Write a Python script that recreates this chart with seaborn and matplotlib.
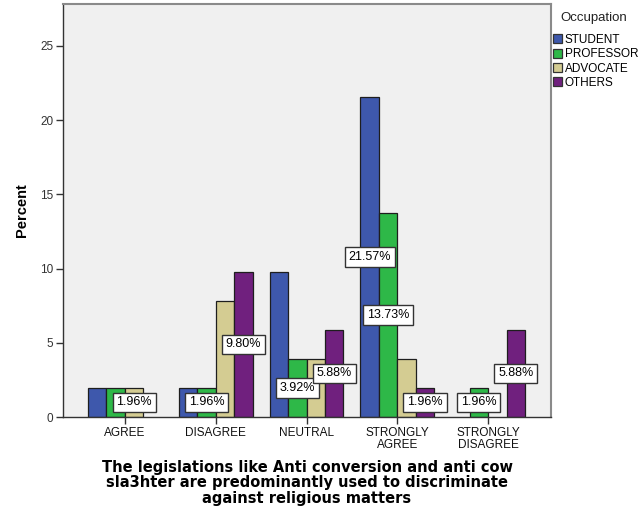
import matplotlib
matplotlib.use("Agg")
import matplotlib.pyplot as plt
from matplotlib.patches import Patch
import numpy as np
import pandas as pd
import seaborn as sns

# ---- data ----
categories = ["AGREE", "DISAGREE", "NEUTRAL", "STRONGLY\nAGREE", "STRONGLY\nDISAGREE"]
occupations = ["STUDENT", "PROFESSOR", "ADVOCATE", "OTHERS"]
student = [1.96, 1.96, 9.80, 21.57, 0.0]
professor = [1.96, 1.96, 3.92, 13.73, 1.96]
advocate = [1.96, 7.84, 3.92, 3.92, 0.0]
others = [0.0, 9.80, 5.88, 1.96, 5.88]
colors = ["#3E58AC", "#2EB848", "#D4CC92", "#70207E"]
yticks = [0, 5, 10, 15, 20, 25]
# value labels visible in the reference (category index, occupation)
shown_labels = [(0, "ADVOCATE"), (1, "PROFESSOR"), (1, "OTHERS"),
                (2, "PROFESSOR"), (2, "OTHERS"),
                (3, "STUDENT"), (3, "PROFESSOR"), (3, "OTHERS"),
                (4, "PROFESSOR"), (4, "OTHERS")]
xlabel = ("The legislations like Anti conversion and anti cow\n"
          "sla3hter are predominantly used to discriminate\n"
          "against religious matters")
ylabel = "Percent"
legend_title = "Occupation"

series = {"STUDENT": student, "PROFESSOR": professor, "ADVOCATE": advocate, "OTHERS": others}
rows = []
for occ in occupations:
    for cat, v in zip(categories, series[occ]):
        if v > 0:
            rows.append({"cat": cat, "occ": occ, "pct": v})
df = pd.DataFrame(rows)

sns.set_style("white")
plt.rcParams["font.family"] = ["Liberation Sans", "DejaVu Sans"]
plt.rcParams["text.color"] = "black"

W, H = 641, 509
fig = plt.figure(figsize=(W / 100, H / 100), dpi=100)
ax = fig.add_axes([63 / W, 1 - 417 / H, 488 / W, 413 / H])
ax.set_facecolor("#F0F0F0")

sns.barplot(data=df, x="cat", y="pct", hue="occ", order=categories,
            hue_order=occupations, palette=colors, saturation=1, width=0.815,
            edgecolor="#1E1E1E", linewidth=0.9, errorbar=None, legend=False,
            ax=ax, zorder=2)

ax.set_xlim(-0.683, 4.694)
ax.set_ylim(0, 27.83)
ax.set_yticks(yticks)
ax.set_yticklabels([str(t) for t in yticks], fontsize=8.5, color="#333333")
ax.set_xticks(range(len(categories)))
ax.set_xticklabels(categories, fontsize=8.5, color="#111111", linespacing=1.0)
ax.tick_params(axis="both", direction="out", length=5, width=1, color="#333333",
               left=True, bottom=True, pad=2)
ax.set_xlabel("")
ax.set_ylabel(ylabel, fontsize=10.5, fontweight="bold", labelpad=8, color="black")

for side in ["left", "bottom"]:
    ax.spines[side].set_color("#333333")
    ax.spines[side].set_linewidth(1.0)
for side in ["top", "right"]:
    ax.spines[side].set_color("#8A8A8A")
    ax.spines[side].set_linewidth(1.5)

# value labels placed on the drawn bars
for occ, cont in zip(occupations, ax.containers):
    for p in cont.patches:
        cx = p.get_x() + p.get_width() / 2
        ci = int(round(cx))
        h = p.get_height()
        if (ci, occ) in shown_labels and h > 0:
            ax.text(cx, h / 2, f"{h:.2f}%", ha="center", va="center", fontsize=9,
                    zorder=5, color="black",
                    bbox=dict(boxstyle="square,pad=0.3", fc="white", ec="#333333", lw=1.0))

fig.text(307 / W, 1 - 483 / H, xlabel, ha="center", va="center", fontsize=10.5,
         fontweight="bold", family="DejaVu Sans", linespacing=1.05, color="black")

fig.text(560 / W, 1 - 18 / H, legend_title, ha="left", va="center", fontsize=9.5,
         color="#222222")
handles = [Patch(facecolor=c, edgecolor="#333333", linewidth=0.9, label=o)
           for c, o in zip(colors, occupations)]
leg = fig.legend(handles=handles, loc="upper left",
                 bbox_to_anchor=(553 / W, 1 - 34 / H), frameon=False, fontsize=8.5,
                 handlelength=0.8, handleheight=0.8,
                 handletextpad=0.2, labelspacing=0.2, borderaxespad=0,
                 borderpad=0.0)

fig.savefig("out.png", dpi=100, facecolor="white")
